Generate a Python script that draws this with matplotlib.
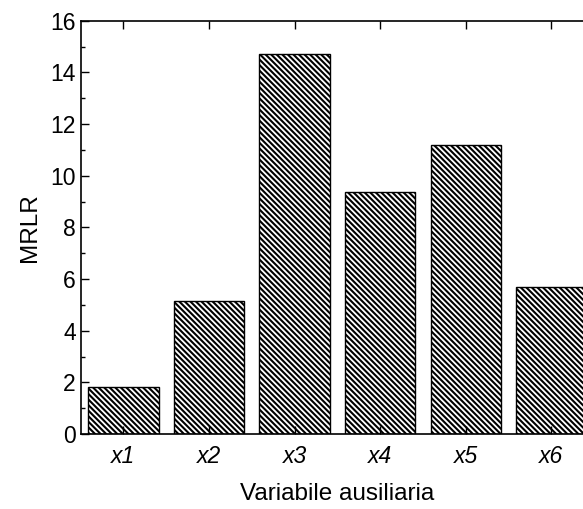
import numpy as np
import matplotlib.pyplot as plt

plt.rcParams['font.family'] = ['Liberation Sans', 'DejaVu Sans']
plt.rcParams['hatch.linewidth'] = 1.5

variabili = ['x1', 'x2', 'x3', 'x4', 'x5', 'x6']
mrlr = [1.81, 5.15, 14.71, 9.36, 11.19, 5.68]

fig = plt.figure(figsize=(5.83, 5.09), dpi=100)
ax = fig.add_axes([0.1384, 0.1473, 0.8805, 0.812])

pos = np.arange(1, len(variabili) + 1)
ax.bar(pos, mrlr, width=0.82, color='white', edgecolor='black',
       linewidth=1.0, hatch='\\\\\\\\\\\\')

ax.set_xlim(0.5, 6.5)
ax.set_ylim(0, 16)
ax.set_xticks(pos)
ax.set_xticklabels(variabili, fontstyle='italic')
ax.set_yticks(np.arange(0, 17, 2))
ax.set_yticks(np.arange(1, 16, 2), minor=True)

ax.tick_params(axis='both', which='major', direction='in', length=6,
               width=1.0, labelsize=16.5, top=True, right=True)
ax.tick_params(axis='y', which='minor', direction='in', length=3,
               width=1.0, right=True)
ax.tick_params(axis='x', pad=8)
for s in ax.spines.values():
    s.set_linewidth(1.2)

ax.set_xlabel('Variabile ausiliaria', fontsize=17.5, labelpad=11)
ax.set_ylabel('MRLR', fontsize=17.5, labelpad=7)

fig.savefig('out.png', dpi=100)
